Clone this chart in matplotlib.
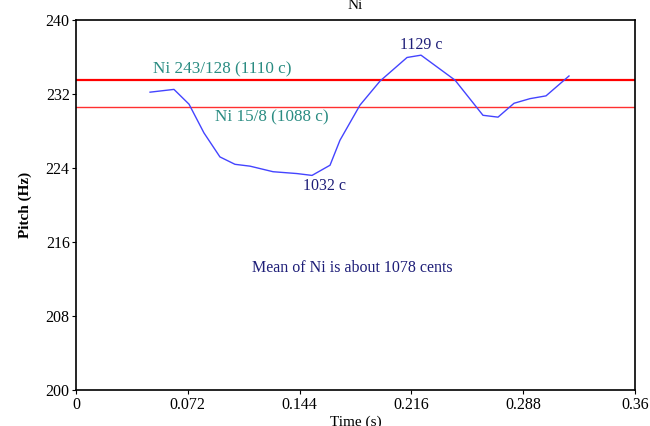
import matplotlib
matplotlib.use("Agg")
import matplotlib.pyplot as plt

time_s = [0.0477, 0.0631, 0.0728, 0.0824, 0.0927, 0.1024, 0.1121, 0.1269, 0.1423,
          0.1520, 0.1636, 0.1700, 0.1829, 0.1958, 0.2132, 0.2222, 0.2441, 0.2621,
          0.2718, 0.2821, 0.2924, 0.3027, 0.3175]
pitch_hz = [232.2, 232.5, 230.9, 227.8, 225.2, 224.4, 224.2, 223.6, 223.4,
            223.2, 224.3, 227.0, 230.8, 233.4, 235.95, 236.2, 233.5, 229.7,
            229.5, 231.0, 231.5, 231.8, 233.95]
ref_243_128 = 233.5
ref_15_8 = 230.6
x_ticks = [0, 0.072, 0.144, 0.216, 0.288, 0.36]
x_tick_labels = ["0", "0.072", "0.144", "0.216", "0.288", "0.36"]
y_ticks = [200, 208, 216, 224, 232, 240]

plt.rcParams['font.family'] = ['Liberation Serif', 'DejaVu Serif']

fig = plt.figure(figsize=(6.5, 4.26), dpi=100)
ax = fig.add_axes([0.1169, 0.0845, 0.86, 0.8685])

ax.axhline(ref_243_128, color='#ff0000', lw=1.6)
ax.axhline(ref_15_8, color='#ff3030', lw=1.0)
ax.plot(time_s, pitch_hz, color='#4444ff', lw=1.0)

ax.set_xlim(0, 0.36)
ax.set_ylim(200, 240)
ax.set_xticks(x_ticks)
ax.set_xticklabels(x_tick_labels)
ax.set_yticks(y_ticks)
ax.tick_params(axis='both', labelsize=11.5, length=3, direction='out', colors='black')
ax.tick_params(axis='y', pad=1.5)
ax.tick_params(axis='x', pad=2)
for s in ax.spines.values():
    s.set_linewidth(1.2)

teal = '#2a8c82'
navy = '#1e1e78'
ax.text(0.0495, 234.2, "Ni 243/128 (1110 c)", color=teal, fontsize=12.3)
ax.text(0.0895, 229.0, "Ni 15/8 (1088 c)", color=teal, fontsize=12.3)
ax.text(0.2085, 236.9, "1129 c", color=navy, fontsize=11.5)
ax.text(0.1465, 221.6, "1032 c", color=navy, fontsize=11.5)
ax.text(0.1135, 212.8, "Mean of Ni is about 1078 cents", color=navy, fontsize=11.5)

ax.set_title("Ni", fontsize=11, pad=8)
ax.set_ylabel("Pitch (Hz)", fontsize=11, fontweight='bold', labelpad=10)
ax.set_xlabel("Time (s)", fontsize=11, labelpad=2)

fig.savefig("out.png", dpi=100)
